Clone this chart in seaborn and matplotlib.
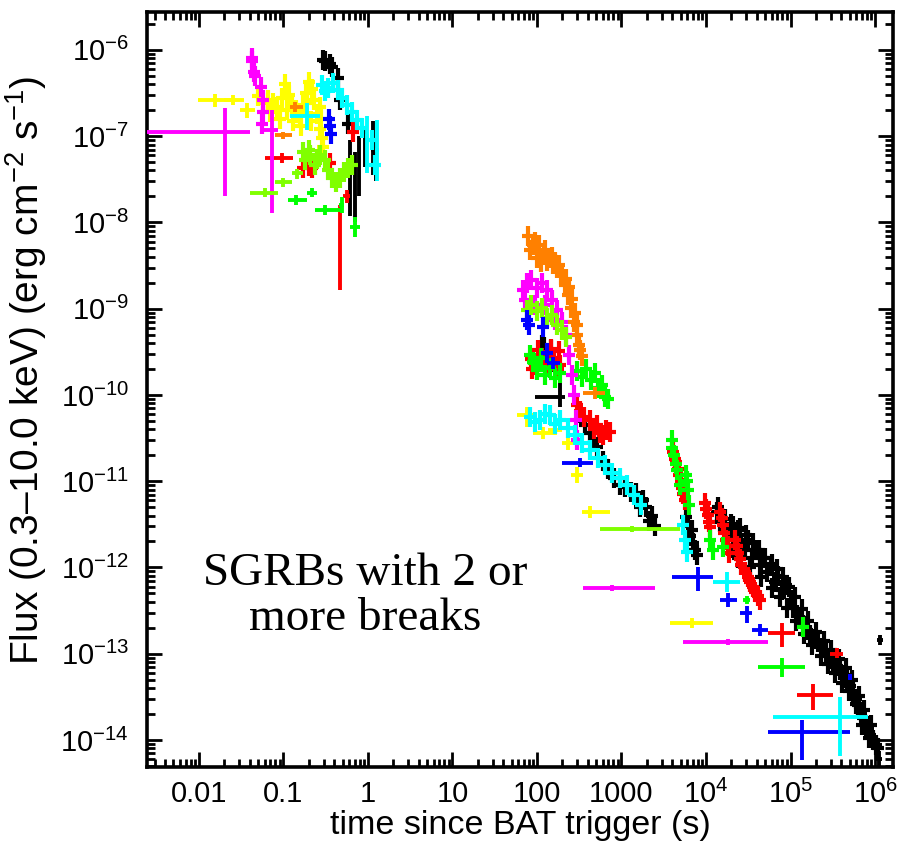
import numpy as np
import pandas as pd
import matplotlib
matplotlib.use("Agg")
import matplotlib.pyplot as plt
from matplotlib.path import Path
from matplotlib.ticker import LogLocator, FixedLocator, FixedFormatter, NullFormatter
import seaborn as sns

# ---------------- data (time in s, flux in erg cm^-2 s^-1) ----------------
# dense light-curve points: (t, f)
black_t = [0.29, 0.31, 0.36, 0.38, 0.44, 0.47, 0.58,
           115, 120, 128, 135, 145, 150,
           323, 370, 424, 470, 513, 600, 700, 820, 960, 1100, 1300, 1500, 1660, 1800, 1950, 2100, 2300, 2500,
           5800, 6200, 6500, 6800, 7000, 7400, 7800,
           13500, 14500, 15450, 16800, 18200, 19500, 20900, 22300, 23900, 26000, 29000, 31500, 35000, 39000,
           43600, 47500, 52700, 58000, 65600, 72000, 79300, 88000, 1.0e5, 1.08e5, 1.19e5, 1.3e5, 1.41e5,
           1.55e5, 1.7e5, 1.9e5, 2.1e5, 2.35e5, 2.63e5, 2.9e5, 3.17e5, 3.5e5, 3.86e5, 4.3e5, 4.67e5, 5.1e5,
           5.5e5, 5.9e5, 6.3e5, 6.8e5, 7.2e5, 7.7e5, 8.26e5, 8.8e5, 9.46e5, 1.02e6, 1.09e6,
           14000, 17000, 21000, 25000, 30000, 36000, 42000, 50000, 60000, 70000, 82000, 95000, 1.12e5,
           1.35e5, 1.6e5, 2.0e5, 2.5e5, 3.0e5, 3.7e5, 4.5e5, 5.3e5, 6.5e5, 7.5e5, 9.0e5,
           24000, 33000, 45000, 60000, 75000, 92000, 1.15e5, 1.45e5, 1.8e5, 2.3e5, 2.8e5, 3.4e5, 4.1e5,
           4.9e5, 6.0e5, 7.0e5, 8.5e5]
black_f = [7.7e-7, 7.4e-7, 6.8e-7, 6.4e-7, 4.7e-7, 2.6e-7, 1.4e-7,
           3.8e-10, 3.6e-10, 3.0e-10, 2.6e-10, 3.3e-10, 2.4e-10,
           6.2e-11, 4.5e-11, 3.6e-11, 3.0e-11, 2.5e-11, 1.7e-11, 1.4e-11, 1.1e-11, 9.0e-12, 8.5e-12, 7.5e-12,
           7.3e-12, 5.0e-12, 6.0e-12, 5.0e-12, 3.5e-12, 4.0e-12, 3.0e-12,
           3.8e-12, 3.0e-12, 2.3e-12, 2.7e-12, 1.9e-12, 1.6e-12, 1.4e-12,
           4.4e-12, 3.4e-12, 3.75e-12, 2.9e-12, 2.4e-12, 3.2e-12, 1.68e-12, 2.3e-12, 2.72e-12, 1.9e-12,
           1.6e-12, 2.1e-12, 1.29e-12, 1.6e-12, 1.07e-12, 1.3e-12, 8.9e-13, 1.05e-12, 6.8e-13, 8.0e-13,
           5.5e-13, 6.2e-13, 4.2e-13, 3.4e-13, 2.8e-13, 2.6e-13, 2.15e-13, 1.9e-13, 1.65e-13, 1.5e-13,
           1.37e-13, 1.15e-13, 1.05e-13, 8.8e-14, 8.0e-14, 7.2e-14, 6.5e-14, 5.6e-14, 5.0e-14, 4.2e-14,
           3.6e-14, 3.0e-14, 2.55e-14, 2.1e-14, 1.8e-14, 1.55e-14, 1.38e-14, 1.15e-14, 1.0e-14, 8.8e-15, 8.1e-15,
           5.0e-12, 3.6e-12, 3.0e-12, 2.9e-12, 2.4e-12, 1.9e-12, 1.6e-12, 1.3e-12, 1.1e-12, 9.5e-13, 7.8e-13,
           6.0e-13, 4.6e-13, 3.3e-13, 2.4e-13, 1.8e-13, 1.4e-13, 1.1e-13, 8.6e-14, 6.8e-14, 5.0e-14, 3.2e-14,
           2.2e-14, 1.5e-14,
           1.3e-12, 1.0e-12, 7.8e-13, 5.8e-13, 4.5e-13, 3.4e-13, 2.4e-13, 1.7e-13, 1.25e-13, 9.5e-14, 7.5e-14,
           6.0e-14, 4.6e-14, 3.7e-14, 2.6e-14, 1.5e-14, 1.05e-14]

red_t = [0.17, 0.20, 0.22, 0.355, 0.66,
         84, 88, 95, 103, 112, 124, 140, 148, 160, 175, 180, 187,
         297, 323, 360, 424, 470, 513, 560, 604, 660, 731,
         4070, 4250, 4420, 4600, 4790, 5000, 5200, 5400, 5630,
         9720, 10100, 10560, 10900, 11150,
         14660, 15300, 15900, 16500, 17260, 18000, 18700,
         22000, 23000, 23900, 25000, 25900,
         29000, 31000, 33200, 35500, 38000, 41000, 43600]
red_f = [4.3e-8, 4.5e-8, 4.3e-8, 4.9e-8, 1.12e-7,
         2.6e-10, 2.0e-10, 2.2e-10, 3.3e-10, 2.5e-10, 2.55e-10, 2.1e-10, 3.4e-10, 2.7e-10, 2.0e-10, 3.2e-10, 2.25e-10,
         7.7e-11, 6.5e-11, 5.5e-11, 5.1e-11, 4.0e-11, 4.5e-11, 3.6e-11, 3.44e-11, 3.9e-11, 3.7e-11,
         2.2e-11, 1.8e-11, 1.67e-11, 1.4e-11, 1.18e-11, 1.0e-11, 8.4e-12, 7.2e-12, 6.1e-12,
         5.6e-12, 4.8e-12, 4.07e-12, 3.4e-12, 2.95e-12,
         4.4e-12, 3.7e-12, 3.1e-12, 2.5e-12, 2.08e-12, 1.75e-12, 1.47e-12,
         2.08e-12, 1.75e-12, 1.47e-12, 1.25e-12, 1.07e-12,
         8.9e-13, 7.8e-13, 6.8e-13, 6.0e-13, 5.2e-13, 4.7e-13, 4.2e-13]

green_t = [83, 90, 100, 111, 124, 143, 163, 187,
           300, 340, 380, 430, 480, 530, 580, 640, 700,
           3960, 3960, 4180, 4360, 4540, 4920, 5800, 6000, 6120, 6300,
           11150, 12100, 15900, 1.41e5]
green_f = [2.9e-10, 2.4e-10, 1.95e-10, 2.7e-10, 1.7e-10, 2.06e-10, 1.57e-10, 1.8e-10,
           1.9e-10, 1.6e-10, 2.0e-10, 1.5e-10, 1.8e-10, 1.2e-10, 1.3e-10, 9.5e-11, 9.0e-11,
           3.0e-11, 2.4e-11, 2.0e-11, 1.6e-11, 1.35e-11, 9.1e-12, 1.18e-11, 1.0e-11, 7.9e-12, 5.3e-12,
           2.08e-12, 1.6e-12, 1.73e-12, 2.04e-13]

lime_t = [0.17, 0.18, 0.20, 0.206, 0.236, 0.25, 0.27, 0.31, 0.336, 0.375, 0.42, 0.466, 0.52, 0.58, 0.65,
          76, 86, 100, 115, 131, 151, 172, 198, 220]
lime_f = [6.5e-8, 5.3e-8, 7.0e-8, 6.1e-8, 4.6e-8, 5.5e-8, 6.1e-8, 5.3e-8, 4.1e-8, 3.3e-8, 2.95e-8, 3.3e-8,
          3.86e-8, 4.3e-8, 4.6e-8,
          9.7e-10, 1.1e-9, 9.3e-10, 1.02e-9, 7.9e-10, 8.5e-10, 6.5e-10, 5.7e-10, 4.7e-10]

blue_t = [0.35, 0.36, 0.37, 76, 80, 118, 131]
blue_f = [1.6e-7, 1.3e-7, 1.05e-7, 7.4e-10, 6.5e-10, 6.1e-10, 3.1e-10]

cyan_t = [0.286, 0.31, 0.336, 0.385, 0.44, 0.49, 0.56, 0.65, 0.74, 0.85, 1.11, 1.21,
          83, 95, 109, 125, 143, 165, 187, 233, 282, 341, 424, 527, 639, 773, 960, 1160, 1400, 1700,
          5350, 5630, 5960]
cyan_f = [3.9e-7, 3.3e-7, 3.6e-7, 4.1e-7, 3.4e-7, 2.8e-7, 2.3e-7, 1.9e-7, 1.55e-7, 1.25e-7, 9.1e-8, 4.6e-8,
          5.6e-11, 4.8e-11, 5.1e-11, 6.0e-11, 5.9e-11, 4.6e-11, 5.1e-11, 4.1e-11, 3.44e-11, 2.77e-11, 2.3e-11,
          1.86e-11, 1.55e-11, 1.25e-11, 1.09e-11, 9.1e-12, 6.9e-12, 5.3e-12,
          3.1e-12, 2.08e-12, 1.5e-12]

magenta_t = [0.042, 0.043, 0.045, 0.046, 0.055, 0.057, 0.058, 0.056,
             68, 72, 76, 86, 95, 100, 115, 124, 131, 151, 163, 172, 198, 220, 239, 260, 274, 290, 297]
magenta_f = [8.1e-7, 7.5e-7, 5.6e-7, 5.0e-7, 3.7e-7, 2.6e-7, 1.9e-7, 1.4e-7,
             1.65e-9, 1.26e-9, 2.0e-9, 2.15e-9, 1.1e-9, 1.74e-9, 2.0e-9, 1.1e-9, 1.65e-9, 1.26e-9, 7.4e-10,
             9.7e-10, 7.0e-10, 5.0e-10, 2.9e-10, 1.7e-10, 1.0e-10, 5.1e-11, 3.0e-11]

yellow_t = [0.050, 0.058, 0.066, 0.070, 0.075, 0.085, 0.090, 0.095, 0.105, 0.110, 0.115, 0.125, 0.13,
            0.14, 0.155, 0.16, 0.17, 0.185, 0.19, 0.20, 0.21, 0.215, 0.23, 0.25, 0.27, 0.27, 0.28, 0.285, 0.29]
yellow_f = [2.9e-7, 2.4e-7, 2.6e-7, 1.9e-7, 2.4e-7, 2.2e-7, 1.6e-7, 2.8e-7, 4.0e-7, 2.0e-7, 3.0e-7, 2.2e-7,
            1.5e-7, 2.0e-7, 1.8e-7, 1.3e-7, 2.3e-7, 3.2e-7, 2.4e-7, 4.3e-7, 1.5e-7, 3.5e-7, 2.6e-7, 1.8e-7,
            1.2e-7, 2.2e-7, 1.6e-7, 9.5e-8, 7.5e-8]

orange_t = [78, 83, 90, 95, 100, 105, 111, 120, 124, 130, 139, 150, 155, 165, 172, 180, 192, 200, 214,
            220, 233, 240, 252, 260, 274, 280, 297, 300, 314, 320, 340]
orange_f = [7.0e-9, 4.8e-9, 5.5e-9, 6.0e-9, 3.9e-9, 5.5e-9, 3.5e-9, 4.2e-9, 4.8e-9, 3.6e-9, 3.9e-9, 4.0e-9,
            3.3e-9, 3.5e-9, 2.97e-9, 3.2e-9, 2.46e-9, 2.6e-9, 1.88e-9, 2.2e-9, 1.44e-9, 1.8e-9, 1.02e-9,
            1.3e-9, 7.0e-10, 9.0e-10, 5.0e-10, 6.5e-10, 3.8e-10, 3.3e-10, 2.8e-10]

# points with explicit error bars: (t, t_low, t_high, f, f_low, f_high)
black_err = [(0.62, 0.60, 0.64, 4.5e-8, 1.2e-8, 9.0e-8),
             (0.70, 0.68, 0.72, 3.0e-8, 1.0e-8, 6.5e-8),
             (0.78, 0.76, 0.80, 5.0e-8, 2.0e-8, 1.0e-7),
             (0.92, 0.89, 0.95, 8.0e-8, 4.4e-8, 1.3e-7),
             (1.15, 1.10, 1.20, 7.0e-8, 3.5e-8, 1.5e-7),
             (1.25, 1.20, 1.30, 5.5e-8, 3.0e-8, 9.0e-8),
             (187, 95, 214, 9.5e-11, 7.2e-11, 1.5e-10),
             (1.14e6, 1.05e6, 1.25e6, 1.44e-13, 1.25e-13, 1.65e-13),
             (1.1e6, 1.0e6, 1.2e6, 6.0e-15, 5.0e-15, 7.5e-15)]
red_err = [(0.096, 0.06, 0.13, 5.6e-8, 4.9e-8, 6.4e-8),
           (0.466, 0.45, 0.48, 1.1e-8, 1.65e-9, 1.6e-8),
           (0.56, 0.50, 0.62, 2.0e-8, 1.7e-8, 2.4e-8),
           (79300, 54200, 1.13e5, 1.74e-13, 1.2e-13, 2.27e-13),
           (1.84e5, 1.19e5, 3.17e5, 3.3e-14, 2.2e-14, 4.4e-14),
           (3.5e5, 2.9e5, 4.2e5, 1.0e-13, 9.0e-14, 1.15e-13)]
green_err = [(0.14, 0.113, 0.19, 1.82e-8, 1.6e-8, 2.08e-8),
             (0.22, 0.19, 0.25, 2.2e-8, 1.95e-8, 2.5e-8),
             (0.31, 0.236, 0.466, 1.4e-8, 1.22e-8, 1.6e-8),
             (0.49, 0.46, 0.52, 1.6e-8, 1.29e-8, 1.98e-8),
             (0.70, 0.61, 0.80, 8.9e-9, 6.8e-9, 1.17e-8),
             (30500, 27400, 33200, 4.2e-13, 3.8e-13, 4.7e-13),
             (79300, 41200, 1.48e5, 7.0e-14, 5.4e-14, 9.0e-14)]
lime_err = [(0.060, 0.040, 0.086, 2.2e-8, 1.95e-8, 2.5e-8),
            (0.099, 0.079, 0.126, 2.95e-8, 2.6e-8, 3.3e-8),
            (0.144, 0.125, 0.17, 3.7e-8, 3.2e-8, 4.2e-8),
            (1330, 557, 4920, 2.8e-12, 2.6e-12, 3.0e-12)]
blue_err = [(0.355, 0.33, 0.38, 1.25e-7, 1.0e-7, 1.65e-7),
            (155, 131, 187, 2.35e-10, 2.0e-10, 2.75e-10),
            (323, 200, 460, 1.63e-11, 1.45e-11, 1.85e-11),
            (8040, 3960, 12100, 7.8e-13, 5.4e-13, 1.0e-12),
            (18200, 14660, 23300, 4.2e-13, 3.5e-13, 5.0e-13),
            (30500, 25200, 35000, 2.97e-13, 2.3e-13, 3.6e-13),
            (43600, 35000, 54200, 1.88e-13, 1.6e-13, 2.2e-13),
            (5.06e5, 4.8e5, 5.3e5, 5.37e-14, 5.0e-14, 5.8e-14),
            (1.37e5, 54200, 5.06e5, 1.24e-14, 5.9e-15, 1.7e-14)]
cyan_err = [(0.19, 0.12, 0.27, 1.72e-7, 1.18e-7, 2.43e-7),
            (0.97, 0.92, 1.02, 1.0e-7, 3.7e-8, 1.7e-7),
            (1.28, 1.21, 1.35, 7.0e-8, 3.0e-8, 1.55e-7),
            (17700, 12100, 25200, 6.8e-13, 5.2e-13, 8.9e-13),
            (3.86e5, 62100, 8.26e5, 1.85e-14, 6.5e-15, 3.16e-14)]
magenta_err = [(0.0204, 0.0015, 0.040, 1.12e-7, 2.0e-8, 2.1e-7),
               (0.073, 0.053, 0.086, 1.18e-7, 1.29e-8, 2.0e-7),
               (773, 350, 2490, 5.8e-13, 5.3e-13, 6.3e-13),
               (18200, 5350, 54200, 1.37e-13, 1.25e-13, 1.5e-13)]
yellow_err = [(0.0155, 0.0098, 0.027, 2.63e-7, 2.18e-7, 3.1e-7),
              (0.025, 0.020, 0.034, 2.63e-7, 2.3e-7, 3.0e-7),
              (0.037, 0.031, 0.046, 2.0e-7, 1.63e-7, 2.43e-7),
              (76, 58, 100, 5.9e-11, 4.26e-11, 7.3e-11),
              (118, 90, 155, 3.6e-11, 3.1e-11, 4.2e-11),
              (163, 135, 200, 3.9e-11, 3.4e-11, 4.5e-11),
              (233, 200, 282, 2.77e-11, 2.3e-11, 3.2e-11),
              (297, 250, 350, 1.18e-11, 9.5e-12, 1.45e-11),
              (424, 340, 731, 4.4e-12, 3.7e-12, 5.2e-12),
              (6830, 3750, 12100, 2.27e-13, 2.0e-13, 2.6e-13)]
orange_err = [(0.137, 0.12, 0.17, 2.18e-7, 1.9e-7, 2.5e-7),
              (0.099, 0.079, 0.125, 1.03e-7, 9.3e-8, 1.13e-7),
              (486, 350, 639, 1.05e-10, 8.9e-11, 1.25e-10)]

x_tick_values = [1e-2, 1e-1, 1, 10, 100, 1e3, 1e4, 1e5, 1e6]
x_tick_labels = ["0.01", "0.1", "1", "10", "100", "1000",
                 r"$\mathregular{10^{4}}$", r"$\mathregular{10^{5}}$", r"$\mathregular{10^{6}}$"]
y_exponents = [-6, -7, -8, -9, -10, -11, -12, -13, -14]

# ---------------- style ----------------
sns.set_theme(style="ticks")
plt.rcParams["font.family"] = ["Liberation Sans", "DejaVu Sans"]
plt.rcParams["mathtext.fontset"] = "custom"
plt.rcParams["mathtext.rm"] = "Liberation Sans"
plt.rcParams["mathtext.it"] = "Liberation Sans:italic"
plt.rcParams["mathtext.bf"] = "Liberation Sans:bold"
plt.rcParams["text.color"] = "black"
plt.rcParams["axes.labelcolor"] = "black"
plt.rcParams["xtick.color"] = "black"
plt.rcParams["ytick.color"] = "black"
plt.rcParams["axes.edgecolor"] = "black"

series = [
    ("black", "#000000", black_t, black_f, black_err),
    ("red", "#ff0000", red_t, red_f, red_err),
    ("green", "#00ff00", green_t, green_f, green_err),
    ("yellow", "#ffff00", yellow_t, yellow_f, yellow_err),
    ("orange", "#ff8000", orange_t, orange_f, orange_err),
    ("magenta", "#ff00ff", magenta_t, magenta_f, magenta_err),
    ("lime", "#80ff00", lime_t, lime_f, lime_err),
    ("blue", "#0000ff", blue_t, blue_f, blue_err),
    ("cyan", "#00ffff", cyan_t, cyan_f, cyan_err),
]

cross = Path([(-0.55, 0.0), (0.55, 0.0), (0.0, -1.0), (0.0, 1.0)],
             [Path.MOVETO, Path.LINETO, Path.MOVETO, Path.LINETO])

fig = plt.figure(figsize=(8.99, 8.51), dpi=100)
ax = fig.add_axes([0.1635, 0.0987, 0.8298, 0.8872])
ax.set_xscale("log")
ax.set_yscale("log")

for i, (name, col, t, f, err) in enumerate(series):
    df = pd.DataFrame({"t": t, "f": f})
    sns.scatterplot(data=df, x="t", y="f", ax=ax, marker=cross, s=220, color=col,
                    edgecolor=col, linewidth=3.0, legend=False, zorder=3 + i)
    e = np.array(err, dtype=float)
    ax.errorbar(e[:, 0], e[:, 3],
                xerr=[e[:, 0] - e[:, 1], e[:, 2] - e[:, 0]],
                yerr=[e[:, 3] - e[:, 4], e[:, 5] - e[:, 3]],
                fmt="none", ecolor=col, elinewidth=2.8, capsize=0, zorder=3 + i)

ax.set_xlim(2.43e-3, 1.63e6)
ax.set_ylim(4.86e-15, 2.75e-6)

ax.xaxis.set_major_locator(FixedLocator(x_tick_values))
ax.xaxis.set_major_formatter(FixedFormatter(x_tick_labels))
ax.xaxis.set_minor_locator(LogLocator(base=10, subs=np.arange(2, 10), numticks=100))
ax.xaxis.set_minor_formatter(NullFormatter())
y_vals = [10.0 ** k for k in y_exponents]
ax.yaxis.set_major_locator(FixedLocator(y_vals))
ax.yaxis.set_major_formatter(FixedFormatter([r"$\mathregular{10^{%d}}$" % k for k in y_exponents]))
ax.yaxis.set_minor_locator(LogLocator(base=10, subs=np.arange(2, 10), numticks=100))
ax.yaxis.set_minor_formatter(NullFormatter())

ax.tick_params(which="both", direction="in", top=True, right=True, color="black", width=2.0)
ax.tick_params(which="major", length=11)
ax.tick_params(which="minor", length=6)
ax.tick_params(axis="x", which="major", labelsize=21, pad=9, labelcolor="black")
ax.tick_params(axis="y", which="major", labelsize=21, pad=13, labelcolor="black")
for sp in ax.spines.values():
    sp.set_linewidth(2.6)
    sp.set_color("black")

ax.set_xlabel("time since BAT trigger (s)", fontsize=24.5, labelpad=1, color="black")
ax.set_ylabel(r"Flux (0.3–10.0 keV) (erg cm$\mathregular{^{-2}}$ s$\mathregular{^{-1}}$)",
              fontsize=28, color="black")
ax.yaxis.set_label_coords(-0.131, 0.526)

ax.text(0.292, 0.226, "SGRBs with 2 or\nmore breaks", transform=ax.transAxes,
        ha="center", va="center", fontsize=34, family="Liberation Serif", linespacing=1.1,
        color="black", zorder=20)

fig.savefig("out.png", dpi=100)
